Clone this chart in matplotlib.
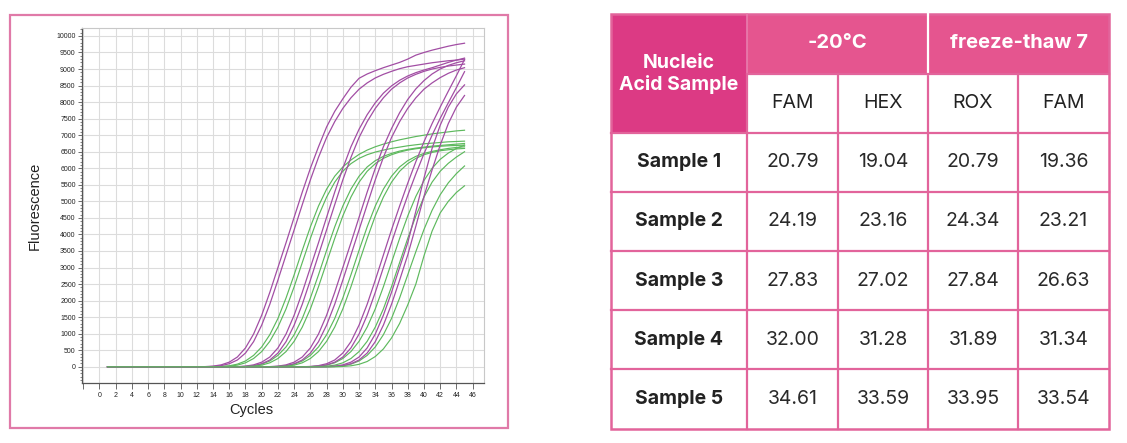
import matplotlib.pyplot as plt
from matplotlib.patches import Rectangle
from matplotlib.ticker import MultipleLocator

cycles = list(range(1, 46))

# purple curves (two per sample)
p1a = [0]*12 + [5, 20, 58, 140, 295, 570, 990, 1560, 2250, 3000, 3750, 4520, 5280, 6000, 6650,
                7250, 7720, 8100, 8450, 8720, 8850, 8950, 9040, 9120, 9200, 9300, 9420, 9500,
                9570, 9630, 9690, 9740, 9780]
p1b = [0]*13 + [10, 35, 92, 205, 415, 760, 1260, 1890, 2620, 3380, 4140, 4900, 5650, 6330, 6930,
                7410, 7810, 8130, 8390, 8580, 8730, 8840, 8930, 9010, 9070, 9110, 9150, 9190,
                9220, 9250, 9270, 9300]
p2a = [0]*16 + [5, 20, 58, 140, 295, 570, 990, 1560, 2250, 3000, 3750, 4520, 5280, 6000, 6650,
                7180, 7620, 7980, 8270, 8490, 8660, 8790, 8890, 8970, 9040, 9120, 9200, 9270, 9330]
p2b = [0]*17 + [10, 35, 92, 205, 415, 760, 1260, 1890, 2620, 3380, 4140, 4900, 5650, 6330, 6930,
                7410, 7810, 8130, 8390, 8580, 8730, 8840, 8930, 9000, 9050, 9090, 9120, 9150]
p3a = [0]*20 + [5, 20, 58, 140, 295, 570, 990, 1560, 2250, 3000, 3750, 4520, 5280, 6000, 6650,
                7200, 7680, 8080, 8400, 8650, 8850, 9000, 9110, 9190, 9250]
p3b = [0]*21 + [10, 35, 92, 205, 415, 760, 1260, 1890, 2620, 3380, 4140, 4900, 5650, 6330, 6930,
                7410, 7810, 8130, 8390, 8580, 8740, 8870, 8970, 9040]
p4a = [0]*25 + [10, 35, 92, 205, 415, 760, 1260, 1890, 2620, 3380, 4140, 4860, 5550, 6200, 6800,
                7350, 7850, 8330, 8800, 9290]
p4b = [0]*25 + [5, 20, 58, 140, 295, 570, 990, 1560, 2250, 3000, 3750, 4480, 5180, 5830, 6440,
                7000, 7510, 7980, 8440, 8920]
p5a = [0]*27 + [5, 20, 58, 140, 295, 570, 990, 1560, 2250, 3000, 3750, 4700, 5700, 6600, 7300,
                7850, 8250, 8520]
p5b = [0]*28 + [10, 35, 92, 205, 415, 760, 1260, 1890, 2620, 3380, 4250, 5150, 5950, 6700, 7350,
                7850, 8200]

# green curves (two per sample)
g1a = [0]*14 + [10, 30, 80, 175, 345, 600, 970, 1460, 2080, 2780, 3520, 4230, 4860, 5370, 5760,
                6040, 6250, 6420, 6550, 6650, 6730, 6800, 6860, 6910, 6960, 7000, 7040, 7070,
                7100, 7130, 7150]
g1b = [0]*14 + [5, 18, 50, 120, 250, 460, 770, 1200, 1750, 2420, 3150, 3880, 4560, 5130, 5580,
                5910, 6140, 6300, 6410, 6490, 6550, 6600, 6640, 6680, 6710, 6740, 6760, 6780,
                6800, 6810, 6820]
g2a = [0]*17 + [10, 30, 80, 175, 345, 600, 970, 1460, 2080, 2780, 3520, 4230, 4860, 5370, 5760,
                6040, 6230, 6360, 6450, 6520, 6570, 6610, 6640, 6670, 6690, 6710, 6730, 6750]
g2b = [0]*17 + [5, 18, 50, 120, 250, 460, 770, 1200, 1750, 2420, 3150, 3880, 4560, 5130, 5580,
                5910, 6140, 6300, 6410, 6490, 6550, 6590, 6620, 6645, 6665, 6680, 6690, 6700]
g3a = [0]*21 + [10, 30, 80, 175, 345, 600, 970, 1460, 2080, 2780, 3520, 4230, 4860, 5370, 5760,
                6040, 6230, 6360, 6450, 6510, 6560, 6600, 6630, 6650]
g3b = [0]*21 + [5, 18, 50, 120, 250, 460, 770, 1200, 1750, 2420, 3150, 3880, 4560, 5130, 5580,
                5910, 6140, 6300, 6410, 6480, 6530, 6560, 6585, 6600]
g4a = [0]*25 + [5, 18, 50, 120, 250, 460, 770, 1200, 1750, 2420, 3150, 3880, 4560, 5150, 5630,
                6000, 6270, 6460, 6600, 6700]
g4b = [0]*26 + [5, 18, 50, 120, 250, 460, 770, 1200, 1750, 2420, 3150, 3880, 4560, 5130, 5580,
                5910, 6150, 6340, 6500]
g5a = [0]*28 + [10, 30, 80, 175, 345, 600, 970, 1460, 2080, 2780, 3480, 4150, 4730, 5200, 5560,
                5840, 6070]
g5b = [0]*29 + [10, 30, 75, 160, 310, 540, 870, 1310, 1870, 2500, 3350, 4100, 4650, 5000, 5270,
                5470]

purple_curves = [p1a, p1b, p2a, p2b, p3a, p3b, p4a, p4b, p5a, p5b]
green_curves = [g1a, g1b, g2a, g2b, g3a, g3b, g4a, g4b, g5a, g5b]

# table
samples = ["Sample 1", "Sample 2", "Sample 3", "Sample 4", "Sample 5"]
fam_20 = [20.79, 24.19, 27.83, 32.00, 34.61]
hex_20 = [19.04, 23.16, 27.02, 31.28, 33.59]
rox_ft = [20.79, 24.34, 27.84, 31.89, 33.95]
fam_ft = [19.36, 23.21, 26.63, 31.34, 33.54]
groups = ["-20°C", "freeze-thaw 7"]
dyes = ["FAM", "HEX", "ROX", "FAM"]

PURPLE = "#A24EA4"
GREEN = "#5DB95D"
PINK_BORDER = "#E2649B"
PINK_HEAD = "#E5558F"
PINK_DARK = "#DC3A84"

W, H = 1127, 443
fig = plt.figure(figsize=(W / 100, H / 100), dpi=100)

bg = fig.add_axes([0, 0, 1, 1])
bg.set_xlim(0, W)
bg.set_ylim(H, 0)
bg.axis("off")

# frame around the chart
bg.add_patch(Rectangle((10, 15), 498, 413, fill=False, ec="#E07AA8", lw=1.6))

# table
col_x = [611, 747, 838, 928, 1018, 1109]
row_y = [14, 73.5, 132.5, 191.7, 250.9, 310.1, 369.3, 428.5]
tfont = "Inter"

bg.add_patch(Rectangle((col_x[0], row_y[0]), col_x[1] - col_x[0], row_y[2] - row_y[0],
                       fc=PINK_DARK, ec="none"))
bg.add_patch(Rectangle((col_x[1], row_y[0]), col_x[5] - col_x[1], row_y[1] - row_y[0],
                       fc=PINK_HEAD, ec="none"))
for x in col_x[1:-1]:
    bg.plot([x, x], [row_y[1], row_y[-1]], color=PINK_BORDER, lw=1.6)
bg.plot([col_x[1], col_x[1]], [row_y[0], row_y[1]], color="#E87DAE", lw=1.2)
bg.plot([col_x[3], col_x[3]], [row_y[0], row_y[1]], color="white", lw=1.6)
for y in row_y[2:-1]:
    bg.plot([col_x[0], col_x[-1]], [y, y], color=PINK_BORDER, lw=1.6)
bg.plot([col_x[1], col_x[-1]], [row_y[1], row_y[1]], color=PINK_BORDER, lw=1.6)
bg.add_patch(Rectangle((col_x[0], row_y[0]), col_x[-1] - col_x[0], row_y[-1] - row_y[0],
                       fill=False, ec=PINK_BORDER, lw=1.8))

bg.text((col_x[0] + col_x[1]) / 2, (row_y[0] + row_y[2]) / 2 + 1, "Nucleic\nAcid Sample",
        ha="center", va="center", color="white", fontsize=14, fontweight="bold",
        family=tfont, linespacing=1.2)
bg.text((col_x[1] + col_x[3]) / 2, (row_y[0] + row_y[1]) / 2 - 1, groups[0],
        ha="center", va="center", color="white", fontsize=14.5, fontweight="bold", family=tfont)
bg.text((col_x[3] + col_x[5]) / 2, (row_y[0] + row_y[1]) / 2 - 1, groups[1],
        ha="center", va="center", color="white", fontsize=14.5, fontweight="bold", family=tfont)
for j, d in enumerate(dyes):
    bg.text((col_x[j + 1] + col_x[j + 2]) / 2, (row_y[1] + row_y[2]) / 2, d,
            ha="center", va="center", color="#222222", fontsize=14, family=tfont)

for i, s in enumerate(samples):
    yc = (row_y[i + 2] + row_y[i + 3]) / 2
    bg.text((col_x[0] + col_x[1]) / 2, yc, s, ha="center", va="center", color="#222222",
            fontsize=14, fontweight="bold", family=tfont)
    for j, col in enumerate([fam_20, hex_20, rox_ft, fam_ft]):
        bg.text((col_x[j + 1] + col_x[j + 2]) / 2, yc, f"{col[i]:.2f}", ha="center",
                va="center", color="#2A2A2A", fontsize=14, family=tfont)

# amplification chart
ax = fig.add_axes([82 / W, 60 / H, 402 / W, 355 / H])
for pc, gc in zip(purple_curves, green_curves):
    ax.plot(cycles, pc, color=PURPLE, lw=0.9)
    ax.plot(cycles, gc, color=GREEN, lw=0.85)

ax.set_xlim(-2.15, 47.4)
ax.set_ylim(-490, 10240)
ax.set_xticks(range(-2, 47, 2))
ax.set_xticklabels([""] + [str(v) for v in range(0, 47, 2)])
ax.set_yticks(range(0, 10001, 500))
ax.yaxis.set_minor_locator(MultipleLocator(100))
ax.grid(True, color="#DCDCDC", lw=0.8)
ax.set_axisbelow(True)

for side in ["top", "right"]:
    ax.spines[side].set_color("#C8C8C8")
for side in ["left", "bottom"]:
    ax.spines[side].set_color("#555555")
    ax.spines[side].set_linewidth(0.9)

ax.tick_params(axis="both", which="major", labelsize=5, length=3, width=0.6,
               color="#555555", pad=1.5, labelcolor="#222222")
ax.tick_params(axis="y", which="minor", length=1.6, width=0.5, color="#555555")
ax.tick_params(axis="x", which="major", length=4, pad=2.5)
for lab in ax.get_xticklabels() + ax.get_yticklabels():
    lab.set_family("Liberation Sans")

ax.set_ylabel("Fluorescence", fontsize=10.5, family="Liberation Sans", color="#222222")
ax.yaxis.set_label_coords(-0.10, 0.5)
ax.set_xlabel("Cycles", fontsize=10.5, family="Liberation Sans", color="#222222", va="top")
ax.xaxis.set_label_coords(0.42, -0.055)

fig.savefig("out.png", dpi=100)
